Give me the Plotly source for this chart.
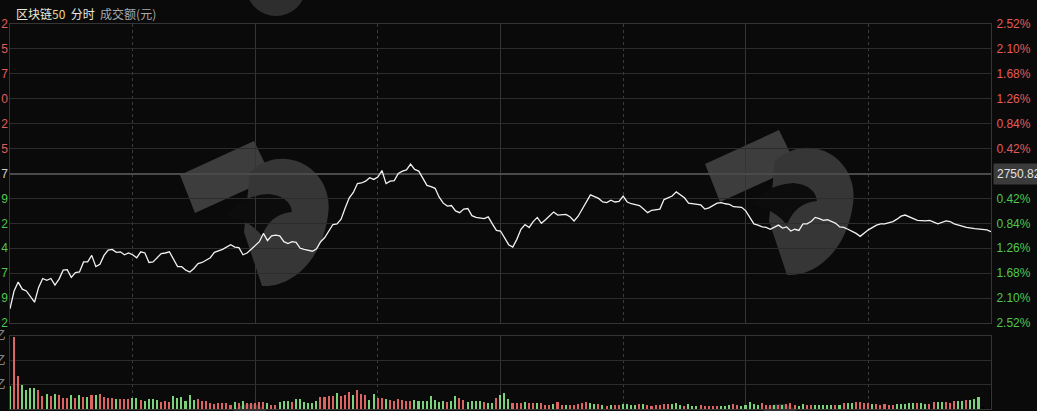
import plotly.graph_objects as go

# ---- data ----
base_price = 2750.82
title_name = "区块链50"

# minute index (0 = 9:30, 240 = 15:00) and % change vs previous close
minutes = [0, 1, 2, 3, 4, 6, 7, 8, 9, 10, 11, 12, 13, 14, 15, 16, 17, 18, 19, 20,
           21, 22, 23, 24, 25, 26, 27, 28, 29, 30, 31, 32, 33, 34, 35, 37, 38, 39, 41, 42,
           43, 44, 45, 46, 47, 49, 50, 52, 54, 55, 56, 57, 58, 59, 61, 62, 63, 64, 65, 66,
           67, 68, 69, 70, 71, 72, 73, 74, 75, 76, 77, 79, 80, 81, 82, 83, 84, 85, 86, 87,
           88, 89, 90, 91, 92, 93, 94, 95, 96, 97, 98, 99, 100, 101, 102, 103, 104, 105, 106, 107,
           108, 109, 110, 111, 112, 113, 114, 116, 117, 118, 119, 120, 121, 122, 123, 124, 125, 126, 127, 128,
           129, 130, 131, 133, 134, 136, 137, 138, 139, 141, 142, 144, 145, 146, 147, 148, 149, 150, 151, 152,
           154, 155, 156, 157, 159, 160, 162, 163, 164, 165, 166, 168, 169, 170, 171, 173, 174, 175, 176, 177,
           178, 179, 180, 182, 183, 184, 185, 186, 188, 189, 190, 191, 192, 193, 194, 195, 196, 197, 198, 199,
           200, 202, 203, 204, 205, 207, 208, 209, 210, 212, 213, 214, 216, 217, 218, 219, 220, 221, 222, 224,
           225, 226, 227, 229, 230, 231, 232, 233, 234, 236, 237, 239, 240]
pct_change = [-2.28, -1.98, -1.83, -1.95, -1.98, -2.17, -1.92, -1.77, -1.80, -1.77, -1.88, -1.78, -1.63, -1.62, -1.75, -1.67, -1.66, -1.49, -1.49, -1.38,
              -1.57, -1.53, -1.38, -1.29, -1.28, -1.33, -1.32, -1.37, -1.34, -1.37, -1.42, -1.32, -1.34, -1.50, -1.49, -1.35, -1.34, -1.32, -1.57, -1.57,
              -1.63, -1.66, -1.60, -1.52, -1.50, -1.42, -1.33, -1.28, -1.20, -1.24, -1.25, -1.37, -1.34, -1.28, -1.15, -1.01, -1.13, -1.05, -1.04, -1.05,
              -1.15, -1.18, -1.15, -1.16, -1.26, -1.28, -1.29, -1.31, -1.27, -1.15, -1.08, -0.86, -0.85, -0.77, -0.58, -0.41, -0.32, -0.17, -0.16, -0.13,
              -0.07, -0.10, -0.06, 0.05, -0.17, -0.13, -0.12, 0.00, 0.04, 0.06, 0.16, 0.07, 0.04, -0.08, -0.20, -0.22, -0.25, -0.40, -0.50, -0.55,
              -0.54, -0.63, -0.66, -0.60, -0.59, -0.71, -0.74, -0.76, -0.73, -0.85, -0.96, -0.97, -1.08, -1.20, -1.24, -1.11, -0.94, -0.86, -0.91, -0.81,
              -0.74, -0.84, -0.78, -0.65, -0.70, -0.69, -0.73, -0.80, -0.72, -0.47, -0.36, -0.42, -0.48, -0.49, -0.45, -0.48, -0.47, -0.38, -0.48, -0.51,
              -0.54, -0.60, -0.66, -0.62, -0.60, -0.44, -0.38, -0.31, -0.36, -0.41, -0.50, -0.52, -0.53, -0.60, -0.58, -0.50, -0.49, -0.51, -0.52, -0.56,
              -0.57, -0.57, -0.63, -0.85, -0.87, -0.90, -0.91, -0.94, -0.87, -0.92, -0.90, -0.97, -0.94, -0.96, -0.85, -0.85, -0.81, -0.74, -0.76, -0.79,
              -0.78, -0.84, -0.90, -0.91, -0.94, -1.01, -1.06, -1.01, -0.95, -0.87, -0.85, -0.85, -0.81, -0.77, -0.72, -0.70, -0.73, -0.77, -0.79, -0.80,
              -0.79, -0.82, -0.85, -0.80, -0.81, -0.85, -0.87, -0.90, -0.91, -0.93, -0.94, -0.95, -0.98]

# turnover per minute (亿元), one bar per minute 0..240, R = up tick, G = down tick
turnover = [0.95, 2.96, 1.36, 0.99, 0.78, 0.85, 0.85, 0.78, 0.53, 0.62, 0.53, 0.62, 0.58, 0.47, 0.47, 0.58, 0.47, 0.58, 0.48, 0.51,
            0.58, 0.58, 0.62, 0.51, 0.44, 0.47, 0.41, 0.41, 0.41, 0.41, 0.44, 0.47, 0.37, 0.34, 0.40, 0.40, 0.37, 0.30, 0.33, 0.30,
            0.53, 0.47, 0.48, 0.33, 0.58, 0.37, 0.41, 0.33, 0.33, 0.26, 0.21, 0.26, 0.26, 0.26, 0.16, 0.30, 0.26, 0.34, 0.23, 0.23,
            0.26, 0.30, 0.30, 0.23, 0.16, 0.16, 0.30, 0.34, 0.34, 0.30, 0.41, 0.41, 0.30, 0.26, 0.26, 0.34, 0.48, 0.51, 0.53, 0.53,
            0.65, 0.53, 0.58, 0.70, 0.58, 0.78, 0.62, 0.58, 0.37, 0.62, 0.44, 0.47, 0.41, 0.37, 0.33, 0.41, 0.37, 0.34, 0.34, 0.37,
            0.33, 0.33, 0.33, 0.53, 0.37, 0.30, 0.33, 0.30, 0.34, 0.53, 0.44, 0.37, 0.30, 0.33, 0.33, 0.33, 0.30, 0.23, 0.26, 0.44,
            0.58, 0.67, 0.41, 0.26, 0.26, 0.26, 0.30, 0.23, 0.23, 0.26, 0.26, 0.16, 0.16, 0.21, 0.30, 0.16, 0.16, 0.16, 0.16, 0.21,
            0.26, 0.30, 0.23, 0.21, 0.21, 0.16, 0.12, 0.16, 0.16, 0.16, 0.21, 0.21, 0.16, 0.16, 0.21, 0.21, 0.16, 0.12, 0.16, 0.16,
            0.21, 0.21, 0.21, 0.26, 0.16, 0.12, 0.21, 0.12, 0.12, 0.16, 0.12, 0.12, 0.12, 0.12, 0.12, 0.12, 0.16, 0.21, 0.16, 0.12,
            0.16, 0.30, 0.21, 0.16, 0.26, 0.16, 0.16, 0.16, 0.16, 0.16, 0.21, 0.23, 0.16, 0.12, 0.21, 0.16, 0.16, 0.16, 0.16, 0.16,
            0.16, 0.16, 0.16, 0.16, 0.26, 0.26, 0.23, 0.30, 0.30, 0.26, 0.23, 0.21, 0.21, 0.16, 0.21, 0.16, 0.16, 0.21, 0.21, 0.21,
            0.26, 0.26, 0.23, 0.26, 0.21, 0.21, 0.30, 0.30, 0.30, 0.30, 0.23, 0.34, 0.34, 0.34, 0.37, 0.37, 0.41, 0.51, 0.05, 0.00,
            0.82]
tick_dir = ("GRRGGGGRRGRGRRRGRGRGRGRRRRGRRRGGRGGGGRRRGGGGGGRRRRRRRRRGRGRRRRRGRRGGGRGGGGGGRRRR"
            "GRRRGRRRGGRRGRRRRRRGGGGGGGGRGGRRGGGGRGGRGGGRRRGRRGRRRGRRGRRRRRGGRGRGRRGGGGRGRR"
            "RRRRGGGRGGGRRRRRGGGRRGGGGGRRRGRGRRRGGRRGGGGGRGRGGRRRRGRRRRRGGGGGRGGRRGGRRRGGRGGG")

# axis labels
pct_ticks = [2.52, 2.10, 1.68, 1.26, 0.84, 0.42, 0.00, -0.42, -0.84, -1.26, -1.68, -2.10, -2.52]
price_tail_digits = ["2", "5", "7", "0", "2", "5", "7", "9", "2", "4", "7", "9", "2"]
turnover_ticks = [1, 2, 3]

# ---- style ----
BG = "#0a0a0a"
UP = "#e35c5a"
DOWN = "#4fc64f"
BAR_UP = "#dc6462"
BAR_DOWN = "#7ad37a"
GRID = "#2c2c2c"
FONT = "Liberation Sans, Noto Sans CJK SC, sans-serif"

W, H = 1037, 411
ML, MR, MT, MB = 10, 46, 24, 2
plot_h = H - MT - MB
main_dom = [(H - MB - 323) / plot_h, 1]
vol_dom = [0, (H - MB - 336) / plot_h]


def tick_color(v):
    if v > 0:
        return UP
    if v < 0:
        return DOWN
    return "#d0d0d0"


pct_text = ['<span style="color:%s">%.2f%%</span>' % (tick_color(v), abs(v)) for v in pct_ticks]
digit_text = ['<span style="color:%s">%s</span>' % (tick_color(v), d)
              for v, d in zip(pct_ticks, price_tail_digits)]
bar_colors = [BAR_UP if c == "R" else BAR_DOWN for c in tick_dir[:len(turnover)]]

fig = go.Figure()
fig.add_trace(go.Scatter(x=minutes, y=pct_change, mode="lines",
                         line=dict(color="#f2f2f2", width=1.3),
                         xaxis="x", yaxis="y", hoverinfo="skip"))
# same series on the left overlay axis (invisible) so its labels get drawn
fig.add_trace(go.Scatter(x=minutes, y=pct_change, mode="lines", opacity=0,
                         xaxis="x", yaxis="y3", hoverinfo="skip"))
fig.add_trace(go.Bar(x=list(range(len(turnover))), y=turnover, width=0.38,
                     marker=dict(color=bar_colors, line=dict(width=0)),
                     xaxis="x2", yaxis="y2", hoverinfo="skip"))

xaxis_common = dict(range=[0, 240], showticklabels=False, ticks="", tick0=0, dtick=60,
                    showgrid=True, gridcolor="#353535", gridwidth=1,
                    minor=dict(tick0=0, dtick=30, showgrid=True, griddash="dot",
                               gridcolor="#3c3c3c", gridwidth=1),
                    zeroline=False, showline=True, mirror=True, linecolor="#353535",
                    automargin=False, fixedrange=True)

fig.update_layout(
    width=W, height=H,
    margin=dict(l=ML, r=MR, t=MT, b=MB),
    paper_bgcolor=BG, plot_bgcolor=BG,
    showlegend=False,
    font=dict(family=FONT, size=12, color="#cccccc"),
    bargap=0,
    xaxis=dict(domain=[0, 1], anchor="y", **xaxis_common),
    xaxis2=dict(domain=[0, 1], anchor="y2", matches="x", **xaxis_common),
    yaxis=dict(domain=main_dom, anchor="x", side="right", range=[-2.5201, 2.5201],
               tickmode="array", tickvals=pct_ticks, ticktext=pct_text, ticks="",
               ticklabelstandoff=2, tickfont=dict(size=12),
               showgrid=True, gridcolor=GRID, gridwidth=1,
               zeroline=True, zerolinecolor="#4a4a4a", zerolinewidth=2,
               showline=True, mirror=True, linecolor="#353535",
               automargin=False, fixedrange=True),
    yaxis3=dict(overlaying="y", anchor="x", side="left", range=[-2.5201, 2.5201],
                tickmode="array", tickvals=pct_ticks, ticktext=digit_text, ticks="",
                ticklabelstandoff=1, tickfont=dict(size=12),
                showgrid=False, zeroline=False, showline=False,
                automargin=False, fixedrange=True),
    yaxis2=dict(domain=vol_dom, anchor="x2", side="left", range=[0, 3.0],
                tickmode="array", tickvals=turnover_ticks, ticktext=["亿"] * 3, ticks="",
                ticklabelstandoff=1, tickfont=dict(size=12, color="#9a9a9a",
                                                   family="Noto Sans CJK SC"),
                showgrid=True, gridcolor=GRID, gridwidth=1, zeroline=False,
                showline=True, mirror=True, linecolor="#353535",
                automargin=False, fixedrange=True),
)

# title row
fig.add_annotation(xref="paper", yref="paper", x=(14 - ML) / (W - ML - MR),
                   y=(H - MB - 13) / plot_h, xanchor="left", yanchor="middle",
                   showarrow=False, font=dict(size=12, family="Noto Sans CJK SC"),
                   text='<span style="color:#ece9d8">%s</span>'
                        '<span style="color:#e8d98c">50</span>'
                        '<span style="color:#e6e6e6">  分时</span>'
                        '<span style="color:#a8a8a8">  成交额(元)</span>' % title_name[:-2])

# last close tag on the right edge
fig.add_annotation(xref="paper", yref="y", x=(993 - ML) / (W - ML - MR), y=0,
                   xanchor="left", yanchor="middle", showarrow=False,
                   text="%.2f" % base_price, bgcolor="#3b3b3b", borderpad=3,
                   font=dict(size=12, color="#e2e2e2"))


# faint watermark logos (pixel outline -> paper coords)
def to_paper(px, py):
    return (px - ML) / (W - ML - MR), (H - MB - py) / plot_h


def make_path(segments, dx, dy):
    out = ""
    for cmd, coords in segments:
        out += cmd + " ".join("%.4f,%.4f" % to_paper(x + dx, y + dy) for x, y in coords) + " "
    return out + "Z"


bar_part = [("M", [(180, 175)]), ("L", [(254, 141)]), ("L", [(272, 178)]), ("L", [(195, 213)])]
round_part = [("M", [(250, 172)]), ("C", [(285, 140), (335, 170), (328, 215)]),
              ("C", [(322, 262), (290, 288), (262, 286)]), ("L", [(244, 232)])]
bird_part = [("M", [(226, 216)]), ("Q", [(240, 196), (268, 194)]),
             ("Q", [(290, 196), (292, 212)]), ("Q", [(270, 214), (262, 236)]),
             ("Q", [(250, 220), (226, 216)])]

for dx, dy in [(0, 0), (525, -11)]:
    for seg, col in [(bar_part, "#3d3d3d"), (round_part, "#363636"), (bird_part, "#0c0c0c")]:
        fig.add_shape(type="path", xref="paper", yref="paper", path=make_path(seg, dx, dy),
                      fillcolor=col, line=dict(width=0), layer="below")

for cx, cy, r in [(276, -14, 30), (250, 428, 24), (780, 428, 24)]:
    x0, y0 = to_paper(cx - r, cy + r)
    x1, y1 = to_paper(cx + r, cy - r)
    fig.add_shape(type="circle", xref="paper", yref="paper", x0=x0, y0=y0, x1=x1, y1=y1,
                  fillcolor="#2e2e2e", line=dict(width=0), layer="below")

fig.write_html("out.html", config={"displayModeBar": False},
               post_script="document.body.style.margin='0';"
                           "document.body.style.background='%s';" % BG)
